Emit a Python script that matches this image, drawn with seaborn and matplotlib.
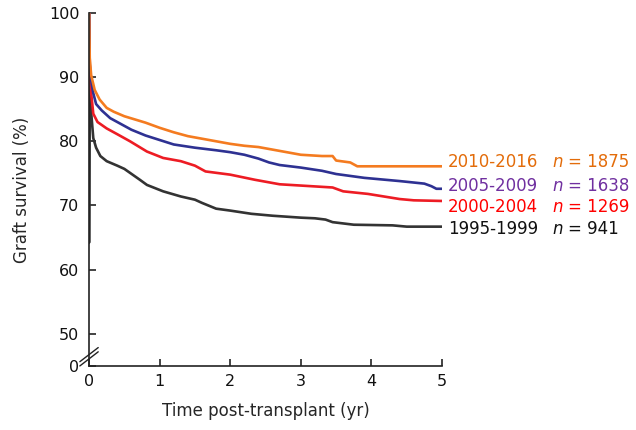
import numpy as np
import pandas as pd
import matplotlib
matplotlib.use("Agg")
import matplotlib.pyplot as plt
import seaborn as sns

# Kaplan-Meier style graft survival curves
t_2010 = [0, 0.01, 0.03, 0.08, 0.15, 0.25, 0.35, 0.5, 0.65, 0.8, 1.0, 1.2, 1.4, 1.6, 1.8,
          2.0, 2.2, 2.4, 2.6, 2.8, 3.0, 3.3, 3.45, 3.5, 3.7, 3.8, 5.0]
s_2010 = [100, 93, 90.3, 88, 86.5, 85.2, 84.6, 83.9, 83.4, 82.9, 82.1, 81.4, 80.8, 80.4, 80.0,
          79.6, 79.3, 79.1, 78.7, 78.3, 77.9, 77.7, 77.7, 77.0, 76.7, 76.1, 76.1]

t_2005 = [0, 0.01, 0.03, 0.06, 0.1, 0.18, 0.3, 0.45, 0.6, 0.8, 1.0, 1.2, 1.5, 1.8, 2.0,
          2.2, 2.4, 2.55, 2.7, 3.0, 3.3, 3.5, 3.9, 4.4, 4.75, 4.85, 4.92, 5.0]
s_2005 = [100, 92, 89.5, 87.5, 85.8, 84.8, 83.6, 82.7, 81.8, 80.9, 80.2, 79.5, 79.0, 78.6, 78.3,
          77.9, 77.3, 76.7, 76.3, 75.9, 75.4, 74.9, 74.3, 73.8, 73.4, 73.0, 72.6, 72.6]

t_2000 = [0, 0.01, 0.03, 0.06, 0.12, 0.25, 0.4, 0.58, 0.82, 1.05, 1.3, 1.5, 1.65, 2.0,
          2.35, 2.7, 3.0, 3.45, 3.6, 3.95, 4.4, 4.6, 5.0]
s_2000 = [100, 91, 87.5, 84.3, 83.0, 82.0, 81.1, 80.0, 78.4, 77.4, 76.9, 76.2, 75.3, 74.8,
          74.0, 73.3, 73.1, 72.8, 72.2, 71.8, 71.0, 70.8, 70.7]

t_1995 = [0, 0, 0.005, 0.01, 0.03, 0.06, 0.1, 0.16, 0.25, 0.4, 0.5, 0.72, 0.82, 1.05, 1.3,
          1.5, 1.6, 1.8, 2.0, 2.3, 2.6, 3.0, 3.2, 3.35, 3.45, 3.75, 4.3, 4.5, 5.0]
s_1995 = [100, 64.2, 88, 87, 84.5, 80.5, 79.0, 77.7, 76.9, 76.2, 75.7, 74.0, 73.2, 72.2, 71.4,
          70.9, 70.4, 69.5, 69.2, 68.7, 68.4, 68.1, 68.0, 67.8, 67.4, 67.0, 66.9, 66.7, 66.7]

eras = ["2010-2016", "2005-2009", "2000-2004", "1995-1999"]
n_pat = ["1875", "1638", "1269", "941"]
line_colors = ["#F47B20", "#2E3192", "#ED1C24", "#333333"]
text_colors = ["#E36C0A", "#7030A0", "#FF0000", "#111111"]
label_y = [76.7, 73.1, 69.7, 66.4]

frames = []
for era, t, s in zip(eras, [t_2010, t_2005, t_2000, t_1995], [s_2010, s_2005, s_2000, s_1995]):
    frames.append(pd.DataFrame({"time": t, "surv": s, "era": era}))
df = pd.concat(frames, ignore_index=True)

sns.set_style("ticks")
plt.rcParams["font.family"] = ["DejaVu Sans"]

fig = plt.figure(figsize=(6.36, 4.30), dpi=100)
ax = fig.add_axes([0.140, 0.149, 0.555, 0.821])

sns.lineplot(data=df, x="time", y="surv", hue="era", hue_order=eras[::-1],
             palette=dict(zip(eras, line_colors)), estimator=None, sort=False,
             lw=1.9, legend=False, ax=ax)

ax.set_xlim(0, 5)
ax.set_ylim(45, 100)
ax.set_xticks([0, 1, 2, 3, 4, 5])
ax.set_yticks([45, 50, 60, 70, 80, 90, 100])
ax.set_yticklabels(["0", "50", "60", "70", "80", "90", "100"])
ax.tick_params(direction="in", length=5, width=1.1, labelsize=11.5, colors="#111111")
ax.tick_params(axis="y", pad=7)
ax.tick_params(axis="x", pad=6)
for side in ["top", "right"]:
    ax.spines[side].set_visible(False)
for side in ["left", "bottom"]:
    ax.spines[side].set_linewidth(1.2)
    ax.spines[side].set_color("#222222")

ax.set_xlabel("Time post-transplant (yr)", fontsize=12, labelpad=9)
ax.set_ylabel("Graft survival (%)", fontsize=12, labelpad=13)

# axis break marks
for dy in [0.0, -0.012]:
    ax.plot([-0.026, 0.026], [0.012 + dy, 0.052 + dy], transform=ax.transAxes,
            color="#222222", lw=1.0, clip_on=False)

# right-hand labels
for era, n, c, y in zip(eras, n_pat, text_colors, label_y):
    ax.text(5.085, y, era, color=c, fontsize=12, va="center", ha="left", clip_on=False)
    ax.text(6.57, y, "n", color=c, fontsize=12, style="italic", va="center", ha="left", clip_on=False)
    ax.text(6.78, y, "= " + n, color=c, fontsize=12, va="center", ha="left", clip_on=False)

fig.savefig("out.png", dpi=100)
